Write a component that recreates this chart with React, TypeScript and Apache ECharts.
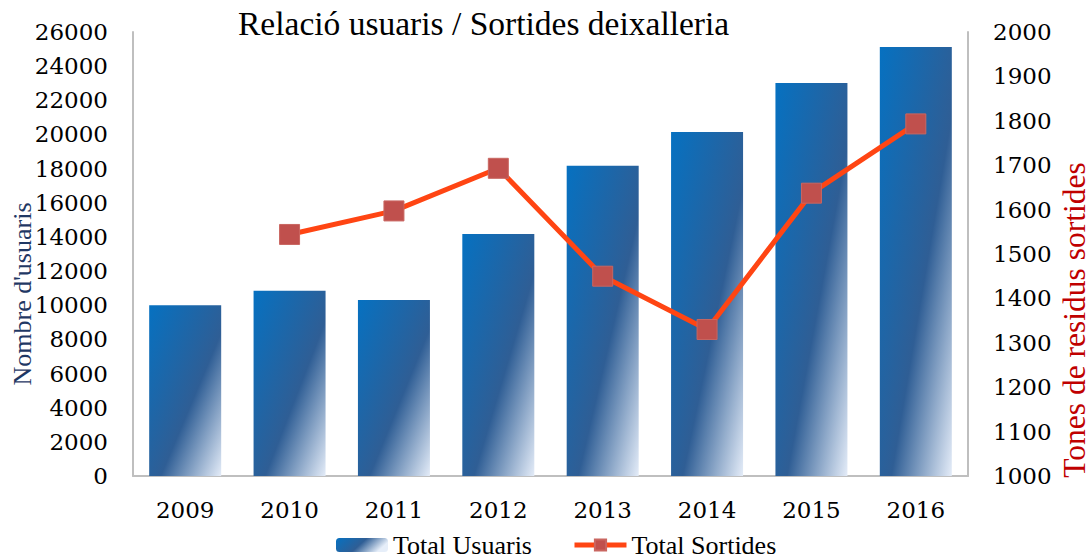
import React, { useEffect, useRef } from "react";
import * as echarts from "echarts";

const years = ["2009", "2010", "2011", "2012", "2013", "2014", "2015", "2016"];
const totalUsuaris = [10000, 10850, 10300, 14170, 18170, 20150, 23010, 25120];
const totalSortides = [null, 1544, 1597, 1693, 1450, 1330, 1637, 1793];

const TITLE = "Relació usuaris / Sortides deixalleria";
const LEFT_NAME = "Nombre d'usuaris";
const RIGHT_NAME = "Tones de residus sortides";

const SERIF = "'Liberation Serif', 'Times New Roman', serif";
const LABEL_FONT = "'DejaVu Serif', serif";

const BAR_W = 72;

const barGradient = new echarts.graphic.LinearGradient(0, 0, 1, 1, [
  { offset: 0, color: "#0671C1" },
  { offset: 0.58, color: "#2F5E95" },
  { offset: 1, color: "#E4ECF8" },
]);

const legendGradient = new echarts.graphic.LinearGradient(0, 0, 1, 0.3, [
  { offset: 0, color: "#0671C1" },
  { offset: 0.55, color: "#2F5E95" },
  { offset: 1, color: "#E6EEF9" },
]);

export default function App() {
  const ref = useRef<HTMLDivElement>(null);
  useEffect(() => {
    if (!ref.current) return;
    const chart = echarts.init(ref.current, undefined, { renderer: "svg" });
    const plain = (v: number) => String(v);
    chart.setOption({
      animation: false,
      backgroundColor: "#ffffff",
      title: {
        text: TITLE,
        left: 238,
        top: 6,
        padding: 0,
        textStyle: { fontFamily: SERIF, fontSize: 33.5, fontWeight: "normal", color: "#000" },
      },
      grid: { left: 133, right: 122, top: 32, bottom: 82, containLabel: false },
      legend: {
        left: 336,
        top: 532,
        padding: 0,
        itemWidth: 52,
        itemHeight: 14,
        itemGap: 40,
        textStyle: { fontFamily: SERIF, fontSize: 26, color: "#000" },
        data: [
          { name: "Total Usuaris", itemStyle: { color: legendGradient } },
          { name: "Total Sortides", lineStyle: { width: 5, color: "#FF4513" } },
        ],
      },
      xAxis: {
        type: "category",
        data: years,
        axisLine: { show: true, lineStyle: { color: "#BFBFBF", width: 2 } },
        axisTick: { show: false },
        axisLabel: { fontFamily: LABEL_FONT, fontSize: 23, color: "#000", margin: 22 },
      },
      yAxis: [
        {
          type: "value",
          min: 0,
          max: 26000,
          interval: 2000,
          axisLine: { show: true, lineStyle: { color: "#BFBFBF", width: 2 } },
          axisTick: { show: false },
          splitLine: { show: false },
          axisLabel: { fontFamily: LABEL_FONT, fontSize: 23, color: "#000", margin: 25, formatter: plain },
        },
        {
          type: "value",
          min: 1000,
          max: 2000,
          interval: 100,
          position: "right",
          axisLine: { show: true, lineStyle: { color: "#BFBFBF", width: 2 } },
          axisTick: { show: false },
          splitLine: { show: false },
          axisLabel: { fontFamily: LABEL_FONT, fontSize: 23, color: "#000", margin: 25, formatter: plain },
        },
      ],
      series: [
        {
          name: "Total Usuaris",
          type: "bar",
          barWidth: BAR_W,
          itemStyle: { color: barGradient },
          data: totalUsuaris,
        },
        {
          name: "Total Sortides",
          type: "line",
          yAxisIndex: 1,
          z: 5,
          symbol: "rect",
          symbolSize: 20,
          connectNulls: false,
          lineStyle: { color: "#FF4513", width: 5 },
          itemStyle: { color: "#C0504D", borderColor: "#C96661", borderWidth: 1 },
          data: totalSortides,
        },
      ],
      graphic: [
        {
          type: "text",
          x: 22,
          y: 294,
          rotation: Math.PI / 2,
          style: {
            text: LEFT_NAME,
            fontFamily: SERIF,
            fontSize: 26,
            fill: "#1F3864",
            textAlign: "center",
            textVerticalAlign: "middle",
          },
        },
        {
          type: "text",
          x: 1074,
          y: 320,
          rotation: Math.PI / 2,
          style: {
            text: RIGHT_NAME,
            fontFamily: SERIF,
            fontSize: 31.5,
            fill: "#C00000",
            textAlign: "center",
            textVerticalAlign: "middle",
          },
        },
      ],
    });
    return () => chart.dispose();
  }, []);
  return <div ref={ref} style={{ width: 1090, height: 558, position: "absolute", left: 0, top: 0 }} />;
}
